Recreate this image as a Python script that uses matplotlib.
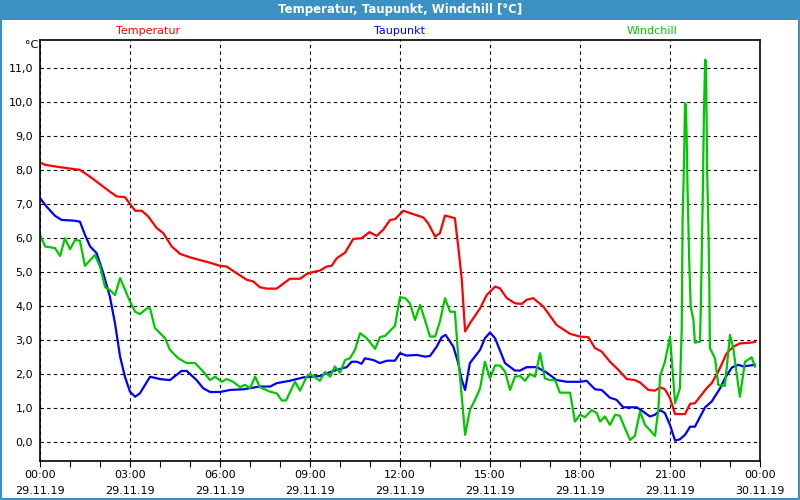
import matplotlib
matplotlib.use("Agg")
import matplotlib.pyplot as plt
from matplotlib.patches import Rectangle

# Zeit in Stunden ab 29.11.19 00:00
temp_h = [0, 0.17, 0.67, 1.33, 1.67, 2.33, 2.56, 2.83, 3.17, 3.39, 3.61, 3.89, 4.11, 4.39, 4.67,
          5.0, 5.33, 5.67, 6.0, 6.22, 6.56, 6.89, 7.11, 7.33, 7.56, 7.89, 8.33, 8.67, 8.89, 9.11,
          9.33, 9.56, 9.72, 9.89, 10.17, 10.44, 10.72, 10.98, 11.22, 11.44, 11.67, 11.83, 12.11,
          12.44, 12.78, 12.94, 13.17, 13.33, 13.5, 13.83, 13.94, 14.06, 14.17, 14.33, 14.67,
          14.89, 15.17, 15.33, 15.56, 15.83, 16.06, 16.22, 16.44, 16.78, 17.22, 17.67, 18.0,
          18.28, 18.5, 18.72, 19.0, 19.28, 19.56, 19.83, 20.0, 20.28, 20.5, 20.67, 20.83, 21.0,
          21.17, 21.5, 21.67, 21.83, 22.0, 22.22, 22.39, 22.61, 22.89, 23.11, 23.33, 23.67, 23.83]
temp_v = [8.21, 8.14, 8.07, 7.99, 7.79, 7.35, 7.21, 7.19, 6.79, 6.79, 6.62, 6.28, 6.13, 5.74, 5.52,
          5.42, 5.34, 5.26, 5.17, 5.15, 4.95, 4.76, 4.71, 4.54, 4.50, 4.50, 4.79, 4.79, 4.93, 4.99,
          5.03, 5.15, 5.17, 5.39, 5.56, 5.96, 5.98, 6.16, 6.05, 6.23, 6.52, 6.54, 6.79,
          6.69, 6.59, 6.42, 6.03, 6.13, 6.65, 6.57, 5.74, 4.76, 3.24, 3.48, 3.92,
          4.31, 4.56, 4.51, 4.22, 4.07, 4.05, 4.17, 4.22, 3.97, 3.43, 3.17, 3.09,
          3.07, 2.75, 2.65, 2.35, 2.11, 1.84, 1.81, 1.74, 1.52, 1.50, 1.60, 1.54, 1.28,
          0.81, 0.81, 1.11, 1.13, 1.32, 1.57, 1.72, 2.06, 2.60, 2.79, 2.89, 2.91, 2.93]

taup_h = [0, 0.22, 0.5, 0.72, 1.11, 1.33, 1.5, 1.67, 1.89, 2.11, 2.33, 2.5, 2.67, 2.83, 3.0, 3.17,
          3.33, 3.67, 4.0, 4.33, 4.72, 4.89, 5.22, 5.44, 5.67, 6.0, 6.33, 6.78, 7.33, 7.67, 7.89,
          8.33, 8.78, 9.33, 9.56, 9.89, 10.22, 10.39, 10.56, 10.72, 10.83, 11.11, 11.33, 11.56,
          11.83, 12.0, 12.22, 12.56, 12.83, 13.0, 13.22, 13.39, 13.52, 13.78, 13.94, 14.06, 14.17,
          14.33, 14.67, 14.83, 15.0, 15.17, 15.5, 15.83, 16.0, 16.22, 16.56, 16.89, 17.22, 17.56,
          18.0, 18.22, 18.5, 18.72, 19.0, 19.22, 19.44, 19.89, 20.11, 20.33, 20.5, 20.67, 20.83,
          21.0, 21.17, 21.33, 21.5, 21.67, 21.83, 22.17, 22.39, 22.67, 22.83, 23.06, 23.28, 23.44,
          23.67, 23.83]
taup_v = [7.16, 6.91, 6.64, 6.52, 6.50, 6.47, 6.08, 5.74, 5.54, 4.95, 4.26, 3.48, 2.50, 1.91, 1.47, 1.32,
          1.42, 1.91, 1.84, 1.81, 2.08, 2.08, 1.81, 1.57, 1.46, 1.46, 1.52, 1.54, 1.62, 1.62, 1.72,
          1.79, 1.89, 1.93, 2.01, 2.11, 2.19, 2.35, 2.35, 2.29, 2.45, 2.40, 2.31, 2.38,
          2.38, 2.60, 2.53, 2.55, 2.50, 2.52, 2.79, 3.07, 3.14, 2.79, 2.31, 1.81, 1.52,
          2.31, 2.70, 3.04, 3.21, 3.04, 2.31, 2.09, 2.09, 2.19, 2.19, 2.03, 1.81, 1.76,
          1.76, 1.79, 1.54, 1.52, 1.29, 1.23, 1.01, 1.01, 0.88, 0.74, 0.79, 0.93, 0.84,
          0.49, 0.03, 0.07, 0.20, 0.44, 0.44, 1.01, 1.18, 1.57, 1.86, 2.18, 2.26, 2.21,
          2.24, 2.26]

wind_h = [0, 0.17, 0.5, 0.67, 0.83, 1.0, 1.17, 1.33, 1.5, 1.83, 2.0, 2.17, 2.33, 2.5, 2.67, 3.0,
          3.17, 3.33, 3.56, 3.67, 3.83, 4.17, 4.33, 4.61, 4.89, 5.17, 5.44, 5.67, 5.83, 6.06, 6.22,
          6.44, 6.67, 6.83, 7.0, 7.17, 7.33, 7.67, 7.89, 8.06, 8.2, 8.5, 8.67, 8.89, 9.0, 9.33,
          9.5, 9.67, 9.83, 10.0, 10.17, 10.33, 10.5, 10.67, 10.89, 11.17, 11.33, 11.5, 11.83,
          12.0, 12.17, 12.33, 12.5, 12.67, 12.83, 13.0, 13.17, 13.33, 13.5, 13.67, 13.83, 13.94,
          14.06, 14.17, 14.33, 14.5, 14.67, 14.83, 15.0, 15.17, 15.33, 15.5, 15.67, 15.83, 16.0,
          16.17, 16.33, 16.5, 16.67, 16.83, 17.0, 17.17, 17.33, 17.67, 17.83, 18.0, 18.17, 18.39,
          18.56, 18.67, 18.83, 19.0, 19.17, 19.33, 19.5, 19.67, 19.83, 20.0, 20.17, 20.33, 20.5,
          20.61, 20.67, 20.83, 21.0, 21.17, 21.33, 21.39, 21.42, 21.47, 21.5, 21.53, 21.56, 21.58,
          21.61, 21.64, 21.69, 21.78, 21.83, 22.0, 22.03, 22.06, 22.09, 22.13, 22.17, 22.2, 22.22,
          22.24, 22.28, 22.31, 22.33, 22.5, 22.61, 22.83, 23.0, 23.11, 23.22, 23.33, 23.5, 23.72,
          23.83]
wind_v = [6.08, 5.74, 5.69, 5.46, 5.98, 5.66, 5.93, 5.91, 5.17, 5.49, 5.15, 4.54, 4.46, 4.31, 4.81, 4.12,
          3.82, 3.75, 3.92, 3.92, 3.34, 3.04, 2.70, 2.45, 2.31, 2.31, 2.06, 1.81, 1.91, 1.76, 1.84,
          1.76, 1.60, 1.67, 1.57, 1.91, 1.60, 1.47, 1.42, 1.21, 1.21, 1.76, 1.50, 1.91, 1.99, 1.79,
          2.05, 1.91, 2.21, 2.03, 2.40, 2.45, 2.70, 3.19, 3.04, 2.73, 3.07, 3.11, 3.40,
          4.25, 4.22, 4.07, 3.58, 4.02, 3.58, 3.09, 3.09, 3.53, 4.22, 3.82, 3.82, 2.50,
          1.32, 0.20, 0.93, 1.23, 1.57, 2.35, 1.86, 2.24, 2.24, 2.06, 1.52, 1.91, 1.93,
          1.79, 1.99, 1.91, 2.60, 1.86, 1.81, 1.81, 1.44, 1.44, 0.59, 0.79, 0.72, 0.93,
          0.84, 0.59, 0.74, 0.49, 0.79, 0.76, 0.39, 0.05, 0.17, 0.88, 0.49, 0.34, 0.17,
          0.93, 1.93, 2.35, 3.09, 1.13, 1.57, 3.28, 6.52, 8.29, 9.95, 9.90, 8.78, 7.65,
          6.52, 5.34, 3.97, 3.58, 2.91, 2.94, 4.07, 5.54, 7.11, 9.56, 11.23, 11.18, 9.56,
          7.89, 6.32, 4.66, 2.75, 2.45, 1.67, 1.64, 3.14, 2.75, 2.01, 1.32, 2.35, 2.48,
          2.21]

tick_pos = [0, 3, 6, 9, 12, 15, 18, 21, 24]
tick_lbl = ["00:00\n29.11.19", "03:00\n29.11.19", "06:00\n29.11.19", "09:00\n29.11.19",
            "12:00\n29.11.19", "15:00\n29.11.19", "18:00\n29.11.19", "21:00\n29.11.19",
            "00:00\n30.11.19"]
y_ticks = list(range(0, 12))

bar_col = "#3c91c4"

fig = plt.figure(figsize=(8, 5), dpi=100, facecolor="white")
ax = fig.add_axes([0.05, 0.0786, 0.9, 0.8414])

ax.plot(temp_h, temp_v, color="#ff0000", lw=1.6)
ax.plot(taup_h, taup_v, color="#0000ff", lw=1.6)
ax.plot(wind_h, wind_v, color="#00c800", lw=1.6)

ax.set_xlim(0, 24)
ax.set_ylim(-0.56, 11.81)
ax.set_xticks(tick_pos)
ax.set_xticklabels(tick_lbl, fontsize=8, linespacing=1.65)
ax.set_xticks(range(0, 25), minor=True)
ax.set_yticks(y_ticks)
ax.set_yticklabels([f"{v},0" for v in y_ticks], fontsize=8)
ax.tick_params(axis="x", which="both", direction="out", length=4, width=0.8, pad=3)
ax.tick_params(axis="y", length=0, pad=5)
ax.grid(True, which="major", color="black", linestyle=(0, (3, 3)), linewidth=0.8)
for s in ax.spines.values():
    s.set_linewidth(1.2)

# Titelleiste und Rahmen
fig.patches.append(Rectangle((0, 0.96), 1, 0.04, transform=fig.transFigure,
                             facecolor=bar_col, edgecolor="none", zorder=0))
fig.patches.append(Rectangle((0.001, 0.002), 0.998, 0.996, transform=fig.transFigure,
                             facecolor="none", edgecolor=bar_col, lw=1.5, zorder=0))
fig.text(0.5, 0.98, "Temperatur, Taupunkt, Windchill [°C]", color="white",
         fontsize=8.5, fontweight="bold", ha="center", va="center")

fig.text(148 / 800, 1 - 31 / 500, "Temperatur", color="#ff0000", fontsize=8, ha="center", va="center")
fig.text(400 / 800, 1 - 31 / 500, "Taupunkt", color="#0000ff", fontsize=8, ha="center", va="center")
fig.text(652 / 800, 1 - 31 / 500, "Windchill", color="#00c800", fontsize=8, ha="center", va="center")
fig.text(32 / 800, 1 - 45 / 500, "°C", color="black", fontsize=8, ha="center", va="center")

fig.savefig("out.png", dpi=100, facecolor=fig.get_facecolor())
